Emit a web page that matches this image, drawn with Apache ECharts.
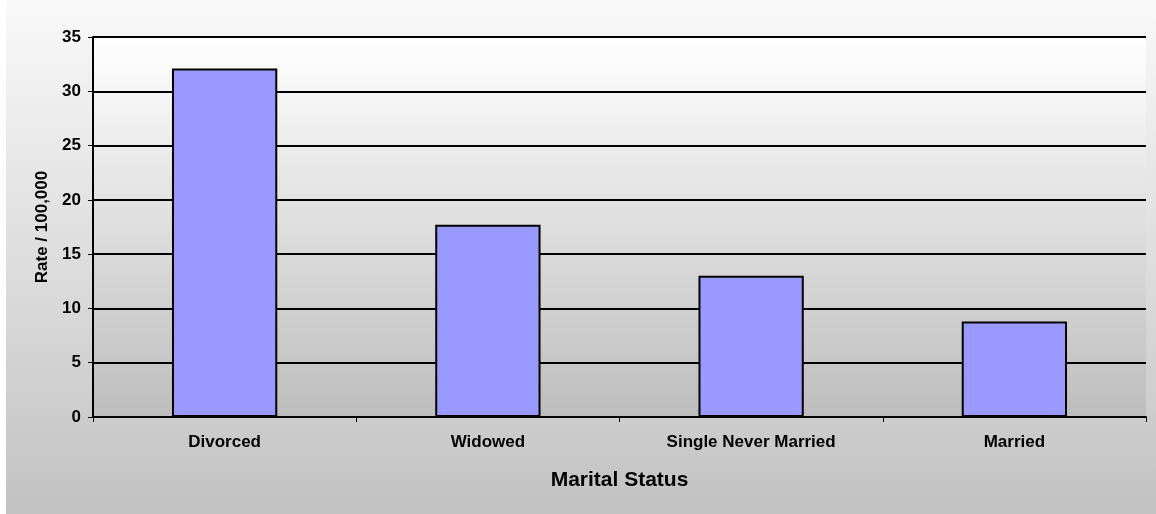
<!DOCTYPE html>
<html>
<head>
<meta charset="utf-8">
<script src="https://cdn.jsdelivr.net/npm/echarts@6/dist/echarts.min.js"></script>
<style>
  html, body { margin: 0; padding: 0; background: #fff; }
  #chart { position: absolute; left: 6px; top: 0; width: 1150px; height: 514px; }
</style>
</head>
<body>
<div id="chart"></div>
<script>
// 数据
var categories = ['Divorced', 'Widowed', 'Single Never Married', 'Married'];
var rates = [32.1, 17.7, 13.0, 8.8];
var yTicks = [0, 35, 5]; // min, max, interval

var chart = echarts.init(document.getElementById('chart'));
var font = 'Liberation Sans, Arial, sans-serif';

chart.setOption({
  animation: false,
  backgroundColor: new echarts.graphic.LinearGradient(0, 0, 0, 1, [
    { offset: 0, color: '#f9f9f9' },
    { offset: 1, color: '#c2c2c2' }
  ]),
  grid: {
    left: 87, right: 10, top: 37, bottom: 97,
    show: true,
    borderWidth: 0,
    // 绘图区渐变
    backgroundColor: new echarts.graphic.LinearGradient(0, 0, 0, 1, [
      { offset: 0, color: '#ffffff' },
      { offset: 1, color: '#bdbdbd' }
    ])
  },
  xAxis: {
    type: 'category',
    data: categories,
    name: 'Marital Status',
    nameLocation: 'middle',
    nameGap: 53,
    nameTextStyle: { fontFamily: font, fontWeight: 'bold', fontSize: 21, color: '#000' },
    axisLine: { lineStyle: { color: '#000', width: 2 } },
    axisTick: { show: true, alignWithLabel: false, length: 5, lineStyle: { color: '#000', width: 1 } },
    axisLabel: { margin: 17, fontFamily: font, fontWeight: 'bold', fontSize: 17, color: '#000' }
  },
  yAxis: {
    type: 'value',
    min: yTicks[0], max: yTicks[1], interval: yTicks[2],
    name: 'Rate / 100,000',
    nameLocation: 'middle',
    nameGap: 41,
    nameTextStyle: { fontFamily: font, fontWeight: 'bold', fontSize: 17, color: '#000' },
    axisLine: { show: true, lineStyle: { color: '#000', width: 2 } },
    axisTick: { show: true, length: 5, lineStyle: { color: '#000', width: 1 } },
    axisLabel: { margin: 12, fontFamily: font, fontWeight: 'bold', fontSize: 17, color: '#000' },
    splitLine: { show: true, lineStyle: { color: '#000', width: 2 } }
  },
  series: [{
    type: 'bar',
    data: rates,
    barWidth: '40%',
    itemStyle: { color: '#9999ff', borderColor: '#000', borderWidth: 2 }
  }]
});
</script>
</body>
</html>
